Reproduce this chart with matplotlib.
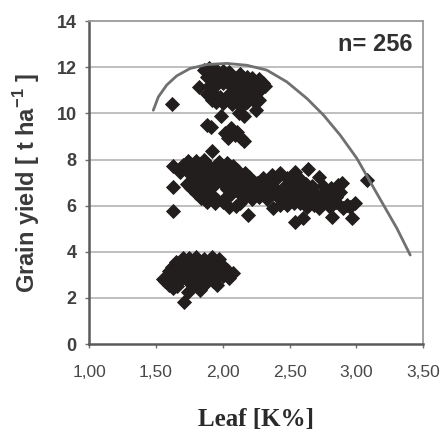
import matplotlib
matplotlib.use("Agg")
import matplotlib.pyplot as plt

plt.rcParams["mathtext.fontset"] = "custom"
plt.rcParams["mathtext.rm"] = "Liberation Sans"
plt.rcParams["mathtext.bf"] = "Liberation Sans:bold"

# Leaf K concentration (%) and grain yield (t/ha), upper cluster
upper_x = [1.86, 1.90, 1.95, 2.00, 2.05, 1.88, 1.93, 1.98, 2.03, 2.08,
           1.90, 1.95, 2.00, 2.06, 2.10, 1.88, 1.93, 1.98, 2.04, 2.09,
           1.95, 2.00, 2.07, 2.12, 1.92,
           2.13, 2.18, 2.22, 2.27, 2.30, 2.25, 2.20, 2.15, 2.12, 2.17,
           2.22, 2.28, 2.32, 2.14, 2.18, 2.23, 2.27, 2.12, 2.16, 2.25,
           1.62, 1.82, 1.88, 1.91, 1.99, 2.02, 2.06, 2.09, 2.11, 2.14,
           2.16, 2.04]
upper_y = [11.90, 11.95, 11.90, 11.85, 11.80, 11.60, 11.50, 11.60, 11.55, 11.50,
           11.20, 11.25, 11.30, 11.20, 11.10, 10.85, 10.90, 10.70, 10.80, 10.75,
           10.50, 10.45, 10.40, 10.50, 10.60,
           11.70, 11.60, 11.55, 11.50, 11.30, 11.20, 11.10, 11.30, 10.90, 10.80,
           10.90, 11.00, 11.20, 10.30, 10.50, 10.60, 10.60, 10.00, 9.90, 10.15,
           10.40, 11.15, 9.50, 9.40, 9.90, 9.15, 9.35, 9.05, 9.20, 8.95,
           8.80, 8.95]

# Middle cluster, left dense block
midl_x = [1.74, 1.80, 1.86, 1.97, 2.03,
          1.70, 1.77, 1.83, 1.90, 1.96, 2.02, 2.08,
          1.73, 1.80, 1.86, 1.92, 1.99, 2.05, 2.11, 2.17,
          1.76, 1.83, 1.89, 1.95, 2.01, 2.07, 2.13, 2.20,
          1.79, 1.85, 1.91, 1.97, 2.04, 2.10, 2.16, 2.23,
          1.73, 1.82, 1.88, 1.94, 2.00, 2.06, 2.13, 2.19, 2.26,
          1.76, 1.85, 1.91, 2.03, 2.09, 2.15, 2.21,
          1.80, 1.87, 1.93, 2.06, 2.12, 2.18, 2.24,
          1.84, 1.90, 1.96, 2.02, 2.16, 2.22,
          1.88, 1.94, 2.00, 2.13,
          1.63, 1.68, 1.63, 1.63, 1.92, 2.05, 2.19, 2.10]
midl_y = [7.95, 7.92, 7.98, 7.90, 7.85,
          7.75, 7.72, 7.80, 7.70, 7.78, 7.68, 7.74,
          7.55, 7.50, 7.58, 7.52, 7.56, 7.48, 7.54, 7.40,
          7.35, 7.30, 7.38, 7.32, 7.36, 7.28, 7.34, 7.25,
          7.15, 7.10, 7.18, 7.12, 7.16, 7.08, 7.14, 7.05,
          6.95, 6.90, 6.98, 6.92, 6.96, 6.88, 6.94, 6.86, 6.90,
          6.75, 6.70, 6.78, 6.72, 6.76, 6.68, 6.74,
          6.55, 6.50, 6.40, 6.52, 6.56, 6.48, 6.54,
          6.35, 6.30, 6.25, 6.32, 6.36, 6.28,
          6.15, 6.12, 6.18, 6.10,
          7.70, 7.45, 6.83, 5.75, 8.35, 5.95, 5.60, 6.00]

# Middle cluster, right part
midr_x = [2.64, 2.54, 2.43, 2.37, 2.72, 2.89, 3.08, 2.47, 2.59, 2.32,
          2.77, 2.85, 2.99, 2.70, 2.44, 2.53, 2.63, 2.80, 2.90, 2.54,
          2.60, 2.82, 2.97, 2.38, 2.27, 2.30, 2.26,
          2.36, 2.41, 2.46, 2.51, 2.56, 2.61, 2.66, 2.40, 2.45, 2.50,
          2.55, 2.60, 2.65, 2.70, 2.48, 2.58, 2.68, 2.43, 2.35, 2.33,
          2.52, 2.62, 2.57, 2.67, 2.75, 2.80, 2.75, 2.85, 2.93, 2.88,
          2.35, 2.40, 2.74, 2.95, 2.72, 2.30, 2.48, 2.81, 2.64, 2.86]
midr_y = [7.61, 7.47, 7.40, 7.33, 7.25, 6.97, 7.10, 6.90, 6.97, 6.75,
          6.60, 6.39, 6.10, 6.31, 6.24, 6.10, 5.95, 5.95, 5.88, 5.30,
          5.45, 5.52, 5.45, 5.88, 6.39, 7.20, 7.00,
          6.85, 6.70, 6.55, 6.70, 6.60, 6.75, 6.55, 6.45, 6.35, 6.45,
          6.35, 6.30, 6.20, 6.50, 6.05, 6.10, 6.05, 6.05, 6.60, 6.30,
          6.90, 6.95, 7.20, 6.85, 6.85, 6.30, 6.10, 6.15, 6.05, 6.60,
          7.05, 7.15, 6.40, 5.95, 5.90, 6.55, 7.20, 6.75, 6.40, 6.90]

# Lower cluster
low_x = [1.70, 1.75, 1.80, 1.86, 1.92, 1.97,
         1.65, 1.72, 1.78, 1.84, 1.90, 1.95, 2.00,
         1.62, 1.68, 1.74, 1.80, 1.86, 1.92, 1.98, 2.03,
         1.60, 1.66, 1.72, 1.78, 1.84, 1.90, 1.96, 2.02, 2.08,
         1.64, 1.70, 1.76, 1.82, 1.88, 1.94, 2.00, 2.05,
         1.57, 1.62, 1.68, 1.74, 1.80, 1.87, 1.93,
         1.60, 1.66, 1.77, 1.85, 1.96,
         1.63, 1.71, 1.74, 1.83, 1.55]
low_y = [3.75, 3.72, 3.78, 3.70, 3.76, 3.68,
         3.55, 3.50, 3.58, 3.52, 3.56, 3.48, 3.40,
         3.35, 3.30, 3.38, 3.32, 3.36, 3.28, 3.34, 3.20,
         3.15, 3.10, 3.18, 3.12, 3.16, 3.08, 3.14, 3.06, 3.07,
         2.95, 2.90, 2.98, 2.92, 2.96, 2.88, 2.94, 2.85,
         2.75, 2.70, 2.78, 2.72, 2.76, 2.68, 2.74,
         2.55, 2.50, 2.58, 2.52, 2.56,
         2.42, 1.84, 2.27, 2.35, 2.80]

# Boundary line
curve_x = [1.481, 1.519, 1.581, 1.656, 1.756, 1.881, 2.031, 2.180, 2.330,
           2.480, 2.630, 2.754, 2.879, 3.004, 3.103, 3.203, 3.303, 3.403]
curve_y = [10.14, 10.72, 11.23, 11.63, 11.95, 12.12, 12.17, 12.09, 11.88,
           11.37, 10.65, 9.93, 9.06, 8.05, 7.04, 6.03, 5.02, 3.86]

x_ticks = [1.00, 1.50, 2.00, 2.50, 3.00, 3.50]
x_tick_labels = ["1,00", "1,50", "2,00", "2,50", "3,00", "3,50"]
y_ticks = [0, 2, 4, 6, 8, 10, 12, 14]

fig = plt.figure(figsize=(4.45, 4.33), dpi=100)
ax = fig.add_axes([0.200, 0.2055, 0.751, 0.7455])

ax.set_xlim(1.0, 3.5)
ax.set_ylim(0, 14)

for y in y_ticks[1:-1]:
    ax.axhline(y, color="#b4b4b4", lw=1.2, zorder=1)

mk = dict(marker="D", ms=7.0, color="#231e1e", mec="#231e1e", mew=0.6,
          ls="none", zorder=3)
ax.plot(upper_x, upper_y, **mk)
ax.plot(midl_x, midl_y, **mk)
ax.plot(midr_x, midr_y, **mk)
ax.plot(low_x, low_y, **mk)

ax.plot(curve_x, curve_y, color="#707070", lw=2.0, zorder=4,
        solid_capstyle="round")

for side in ["top", "right"]:
    ax.spines[side].set_color("#9a9a9a")
    ax.spines[side].set_linewidth(1.3)
for side in ["left", "bottom"]:
    ax.spines[side].set_color("#5a5a5a")
    ax.spines[side].set_linewidth(1.8)

ax.set_xticks(x_ticks)
ax.set_xticklabels(x_tick_labels)
ax.set_yticks(y_ticks)
ax.tick_params(axis="both", colors="#707070", length=3, width=1.0)
ax.tick_params(axis="x", pad=12)
ax.tick_params(axis="y", pad=6)
for lab in ax.get_xticklabels():
    lab.set_fontfamily("Liberation Sans")
    lab.set_fontsize(12.5)
    lab.set_color("#484848")
for lab in ax.get_yticklabels():
    lab.set_fontfamily("Liberation Sans")
    lab.set_fontsize(13)
    lab.set_fontweight("bold")
    lab.set_color("#404040")

ax.set_ylabel(r"Grain yield [ t ha$^{\mathbf{-1}}$ ]", fontfamily="Liberation Sans",
              fontsize=17, fontweight="bold", color="#3a3a3a", labelpad=10)
ax.set_xlabel("Leaf [K%]", fontfamily="Liberation Serif", fontsize=18,
              fontweight="bold", color="#2a2a2a", labelpad=20)

ax.text(0.967, 0.927, "n= 256", transform=ax.transAxes, ha="right", va="center",
        fontfamily="Liberation Sans", fontsize=17, fontweight="bold",
        color="#303030", zorder=5)

fig.savefig("out.png", dpi=100)
